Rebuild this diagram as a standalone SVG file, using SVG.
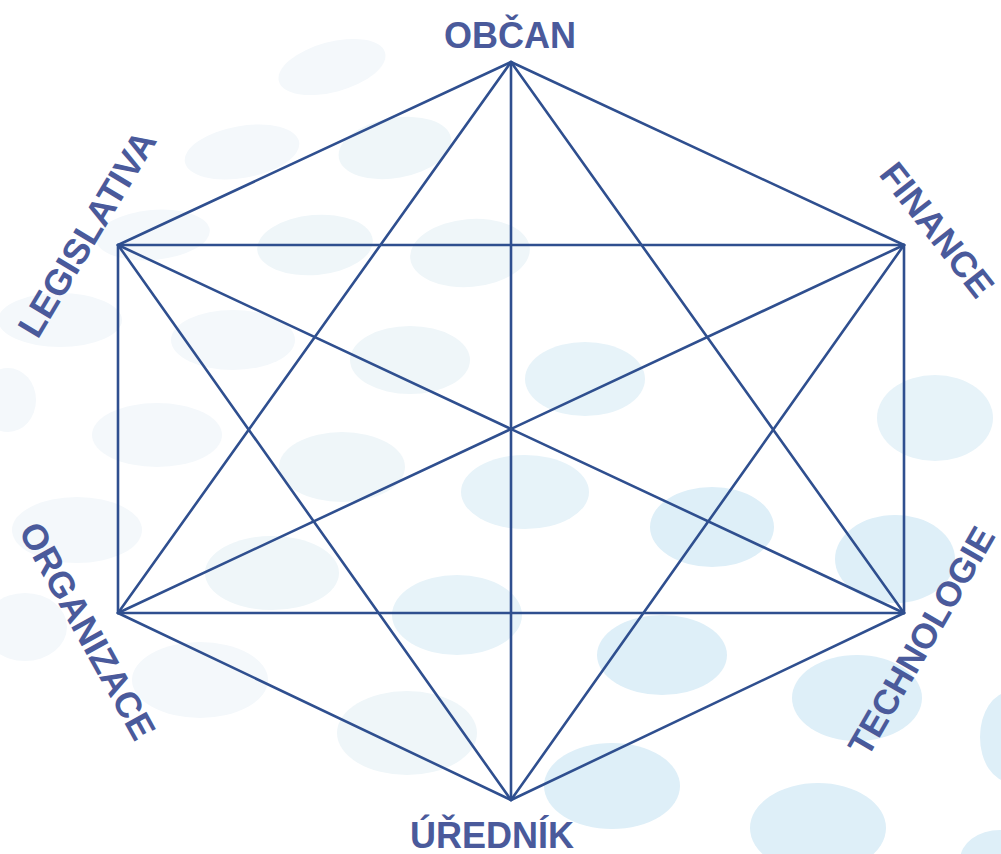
<svg xmlns="http://www.w3.org/2000/svg" width="1001" height="854" viewBox="0 0 1001 854">
<style>
.bg{fill:#ffffff}
.e1{fill:#F4F8FB}
.e2{fill:#EFF6F9}
.e3{fill:#E7F3F9}
.e4{fill:#DEEFF8}
.edge{stroke:#2F4F8F;stroke-width:2.6;fill:none;stroke-linecap:round}
.lbl{font-family:"Liberation Sans",Arial,sans-serif;font-weight:bold;font-size:36px;fill:#4A5A9B;text-anchor:middle}
</style>
<rect class="bg" x="0" y="0" width="1001" height="854"/>
<g id="background">
<ellipse class="e1" cx="332" cy="67" rx="55" ry="25" transform="rotate(-15 332 67)"/>
<ellipse class="e1" cx="242" cy="152" rx="58" ry="26" transform="rotate(-10 242 152)"/>
<ellipse class="e2" cx="395" cy="148" rx="57" ry="30" transform="rotate(-10 395 148)"/>
<ellipse class="e1" cx="153" cy="235" rx="57" ry="25" transform="rotate(-5 153 235)"/>
<ellipse class="e2" cx="315" cy="245" rx="58" ry="30" transform="rotate(-5 315 245)"/>
<ellipse class="e2" cx="470" cy="253" rx="60" ry="34" transform="rotate(-5 470 253)"/>
<ellipse class="e1" cx="60" cy="320" rx="62" ry="27"/>
<ellipse class="e1" cx="233" cy="340" rx="62" ry="30"/>
<ellipse class="e2" cx="410" cy="360" rx="60" ry="34"/>
<ellipse class="e1" cx="8" cy="400" rx="28" ry="32"/>
<ellipse class="e1" cx="157" cy="435" rx="65" ry="32"/>
<ellipse class="e2" cx="342" cy="467" rx="63" ry="35"/>
<ellipse class="e1" cx="77" cy="530" rx="65" ry="33"/>
<ellipse class="e2" cx="272" cy="573" rx="67" ry="37"/>
<ellipse class="e3" cx="457" cy="615" rx="65" ry="40"/>
<ellipse class="e1" cx="25" cy="627" rx="42" ry="34"/>
<ellipse class="e1" cx="200" cy="680" rx="68" ry="38"/>
<ellipse class="e2" cx="407" cy="733" rx="70" ry="42"/>
<ellipse class="e3" cx="585" cy="379" rx="60" ry="37"/>
<ellipse class="e3" cx="935" cy="418" rx="58" ry="43"/>
<ellipse class="e3" cx="525" cy="492" rx="64" ry="37"/>
<ellipse class="e4" cx="712" cy="527" rx="62" ry="40"/>
<ellipse class="e4" cx="895" cy="559" rx="60" ry="44"/>
<ellipse class="e4" cx="662" cy="655" rx="65" ry="40"/>
<ellipse class="e4" cx="857" cy="698" rx="65" ry="43"/>
<ellipse class="e4" cx="612" cy="786" rx="68" ry="43"/>
<ellipse class="e4" cx="818" cy="828" rx="68" ry="45"/>
<ellipse class="e4" cx="1010" cy="737" rx="30" ry="45"/>
<ellipse class="e4" cx="1000" cy="860" rx="40" ry="30"/>
</g>
<g id="connectors">
<line class="edge" x1="511" y1="62" x2="904" y2="245"/>
<line class="edge" x1="511" y1="62" x2="904" y2="613"/>
<line class="edge" x1="511" y1="62" x2="511" y2="800"/>
<line class="edge" x1="511" y1="62" x2="118" y2="613"/>
<line class="edge" x1="511" y1="62" x2="118" y2="245"/>
<line class="edge" x1="904" y1="245" x2="904" y2="613"/>
<line class="edge" x1="904" y1="245" x2="511" y2="800"/>
<line class="edge" x1="904" y1="245" x2="118" y2="613"/>
<line class="edge" x1="904" y1="245" x2="118" y2="245"/>
<line class="edge" x1="904" y1="613" x2="511" y2="800"/>
<line class="edge" x1="904" y1="613" x2="118" y2="613"/>
<line class="edge" x1="904" y1="613" x2="118" y2="245"/>
<line class="edge" x1="511" y1="800" x2="118" y2="613"/>
<line class="edge" x1="511" y1="800" x2="118" y2="245"/>
<line class="edge" x1="118" y1="613" x2="118" y2="245"/>
</g>
<g id="node-obcan"><text class="lbl" x="510" y="48">OBČAN</text></g>
<g id="node-finance"><text class="lbl" transform="translate(927.3 237.5) rotate(52)">FINANCE</text></g>
<g id="node-technologie"><text class="lbl" style="font-size:35px" transform="translate(932 647) rotate(-60)">TECHNOLOGIE</text></g>
<g id="node-urednik"><text class="lbl" x="492" y="848">ÚŘEDNÍK</text></g>
<g id="node-organizace"><text class="lbl" transform="translate(76.6 636.8) rotate(61)">ORGANIZACE</text></g>
<g id="node-legislativa"><text class="lbl" transform="translate(97.6 240.2) rotate(-59)">LEGISLATIVA</text></g>
</svg>
